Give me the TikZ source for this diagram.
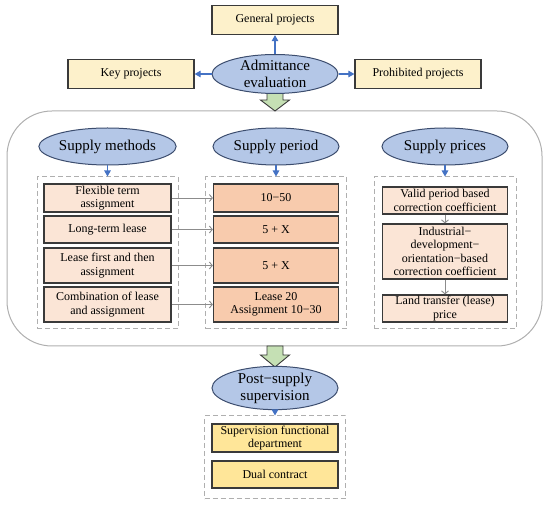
\documentclass[tikz,border=0pt]{standalone}
\usepackage{fontspec}
\setmainfont{Liberation Serif}
\usetikzlibrary{shapes.geometric,arrows.meta}
\definecolor{yfill}{HTML}{FDF1CB}
\definecolor{ellfill}{HTML}{B4C7E7}
\definecolor{elldraw}{HTML}{3C4D6E}
\definecolor{peach}{HTML}{FBE5D6}
\definecolor{orangefill}{HTML}{F8CBAD}
\definecolor{goldfill}{HTML}{FFE699}
\definecolor{greenfill}{HTML}{C5E0B4}
\definecolor{blueline}{HTML}{4472C4}
\definecolor{grayline}{HTML}{8C8C8C}
\definecolor{dashline}{HTML}{AFAFAF}
\definecolor{boxborder}{HTML}{3A3A3A}
\tikzset{
  boxbase/.style={draw=boxborder, line width=1.2pt, inner sep=0pt, align=center,
    font=\fontsize{12}{13.5}\selectfont},
  ybox/.style={boxbase, fill=yfill, minimum width=126pt, minimum height=29pt},
  mbox/.style={boxbase, fill=peach, minimum width=127pt},
  pbox/.style={boxbase, fill=orangefill, minimum width=125pt},
  cbox/.style={boxbase, fill=peach, minimum width=125pt},
  gbox/.style={boxbase, fill=goldfill, minimum width=126pt},
  ell/.style={ellipse, draw=elldraw, line width=1pt, fill=ellfill, inner sep=0pt,
    minimum width=126pt, minimum height=37pt, align=center,
    font=\fontsize{15}{17}\selectfont},
  dbox/.style={draw=dashline, line width=1pt, dash pattern=on 5pt off 3pt, inner sep=0pt},
  barrow/.style={draw=blueline, line width=1.1pt, -{Triangle[length=6pt,width=6.5pt]}},
  grarrow/.style={draw=grayline, line width=0.9pt, -{Straight Barb[length=3pt,width=7pt]}},
  bigframe/.style={draw=dashline, line width=1pt, rounded corners=45pt},
  blockarrow/.style={draw=boxborder, line width=0.9pt, fill=greenfill}
}
\begin{document}
\begin{tikzpicture}[x=1pt,y=-1pt]
\useasboundingbox (0,0) rectangle (550,505);
% big frame
\draw[bigframe] (7,111) rectangle (542,346);
% green block arrows
\draw[blockarrow] (267,90) -- (283,90) -- (283,100) -- (289.5,100) -- (275,111) -- (260.5,100) -- (267,100) -- cycle;
\draw[blockarrow] (267,346) -- (283,346) -- (283,355) -- (289.5,355) -- (275,367) -- (260.5,355) -- (267,355) -- cycle;
% top part
\node[ybox] (gen) at (275,20) {General projects};
\node[ybox] (key) at (131,74) {Key projects};
\node[ybox] (pro) at (418,74) {Prohibited projects};
\node[ell, minimum height=38pt] (adm) at (275,74) {Admittance\\evaluation};
\draw[barrow] (adm) -- (gen);
\draw[barrow] (adm) -- (key);
\draw[barrow] (adm) -- (pro);
% ellipses row
\node[ell] (sm) at (107.5,146.5) {Supply methods};
\node[ell] (sp) at (276,146.5) {Supply period};
\node[ell] (spr) at (445,146.5) {Supply prices};
% dashed containers
\node[dbox, minimum width=141pt, minimum height=152pt] (dm) at (107.5,253) {};
\node[dbox, minimum width=141pt, minimum height=152pt] (dp) at (276,253) {};
\node[dbox, minimum width=142pt, minimum height=152pt] (dc) at (445,253) {};
\draw[barrow] (sm) -- (dm);
\draw[barrow] (sp) -- (dp);
\draw[barrow] (spr) -- (dc);
% methods
\node[mbox, minimum height=28pt] (m1) at (107.5,198) {Flexible term\\assignment};
\node[mbox, minimum height=27pt] (m2) at (107.5,229.5) {Long-term lease};
\node[mbox, minimum height=35pt] (m3) at (107.5,265.5) {Lease first and then\\assignment};
\node[mbox, minimum height=35pt] (m4) at (107.5,304.5) {Combination of lease\\and assignment};
% periods
\node[pbox, minimum height=28pt] (p1) at (276,198) {10−50};
\node[pbox, minimum height=27pt] (p2) at (276,229.5) {5 + X};
\node[pbox, minimum height=35pt] (p3) at (276,265.5) {5 + X};
\node[pbox, minimum height=35pt] (p4) at (276,304.5) {Lease 20\\Assignment 10−30};
\draw[grarrow] (m1) -- (p1);
\draw[grarrow] (m2) -- (p2);
\draw[grarrow] (m3) -- (p3);
\draw[grarrow] (m4) -- (p4);
% prices
\node[cbox, minimum height=27pt] (c1) at (445,200.5) {Valid period based\\correction coefficient};
\node[cbox, minimum height=55pt] (c2) at (445,251.5) {Industrial−\\development−\\orientation−based\\correction coefficient};
\node[cbox, minimum height=27pt] (c3) at (445,308.5) {Land transfer (lease)\\price};
\draw[grarrow] (c1) -- (c2);
\draw[grarrow] (c2) -- (c3);
% post-supply
\node[ell, minimum height=40pt] (post) at (275,388) {Post−supply\\supervision};
\node[dbox, minimum width=141pt, minimum height=83pt] (dpost) at (275,457.5) {};
\draw[barrow] (post) -- (dpost);
\node[gbox, minimum height=28pt] (g1) at (275,438) {Supervision functional\\department};
\node[gbox, minimum height=27pt] (g2) at (275,474.5) {Dual contract};
\end{tikzpicture}
\end{document}
